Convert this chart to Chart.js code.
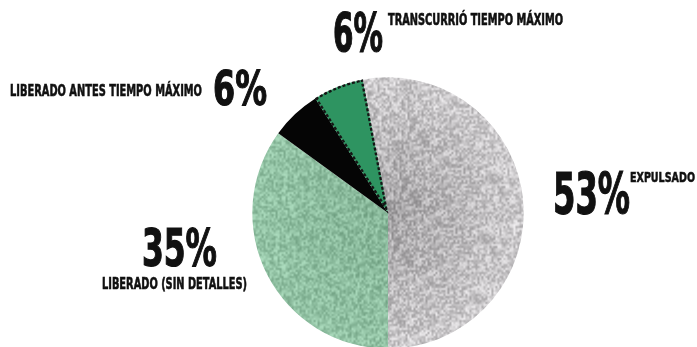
<!DOCTYPE html>
<html>
<head>
<meta charset="utf-8">
<script src="https://cdn.jsdelivr.net/npm/chart.js@4/dist/chart.umd.min.js"></script>
<style>
  html, body { margin: 0; padding: 0; background: #fff; overflow: hidden; }
  #wrap { position: relative; width: 697px; height: 347px; overflow: hidden; }
  #box { position: absolute; left: 0; top: 0; width: 697px; height: 426px; }
  .lbl {
    position: absolute; white-space: nowrap; line-height: 1; color: #111;
    font-family: "Liberation Sans Narrow", "DejaVu Sans Condensed", "Liberation Sans", sans-serif;
    font-weight: bold; transform-origin: 0 0;
  }
</style>
</head>
<body>
<div id="wrap">
  <div id="box"><canvas id="pie"></canvas></div>
</div>
<script>
// Pie data (clockwise from the top)
const labels = ['Expulsado', 'Liberado (sin detalles)', 'Liberado antes tiempo máximo', 'Transcurrió tiempo máximo'];
const values = [53, 35, 6, 6];

// textured fills: soft, blotchy noise on a base colour, anchored to the canvas
function noiseFill(w, h, base, spread, seed, shade) {
    const sw = Math.ceil(w / 2), sh = Math.ceil(h / 2);
    const c = document.createElement('canvas');
    c.width = sw; c.height = sh;
    const g = c.getContext('2d');
    const img = g.createImageData(sw, sh);
    let s = seed;
    for (let i = 0; i < sw * sh; i++) {
        s = (s * 1103515245 + 12345) & 0x7fffffff;
        const n = ((s >> 8) % 1000) / 1000 - 0.5;
        const x = (i % sw) * 2, y = Math.floor(i / sw) * 2;
        const k = shade ? shade(x, y) : 0;
        img.data[i * 4] = base[0] + n * spread + k;
        img.data[i * 4 + 1] = base[1] + n * spread + k;
        img.data[i * 4 + 2] = base[2] + n * spread + k;
        img.data[i * 4 + 3] = 255;
    }
    g.putImageData(img, 0, 0);
    const big = document.createElement('canvas');
    big.width = w; big.height = h;
    const bg = big.getContext('2d');
    bg.imageSmoothingEnabled = true;
    bg.drawImage(c, 0, 0, w, h);
    return bg.createPattern(big, 'no-repeat');
}

const ctx = document.getElementById('pie').getContext('2d');
const cx = 388, cy = 213, R = 136;
const greyFill = noiseFill(697, 426, [176, 174, 176], 75, 7, (x, y) => {
    const d = Math.hypot(x - cx, y - cy) / R;
    return d * 38 - 8;
});
const lightGreen = noiseFill(697, 426, [140, 188, 158], 55, 11, (x, y) => Math.hypot(x - cx, y - cy) / R * 14 - 6);
const darkGreen = '#2e9461';

const pieChart = new Chart(ctx, {
    type: 'pie',
    data: {
        labels: labels,
        datasets: [{
            data: values,
            backgroundColor: [greyFill, lightGreen, '#050505', darkGreen],
            borderColor: ['rgba(0,0,0,0)', 'rgba(0,0,0,0)', '#050505', '#151515'],
            borderWidth: [0, 0, 0, 2],
            borderDash: c => c.dataIndex === 3 ? [3, 2] : [],
            borderAlign: 'inner'
        }]
    },
    options: {
        responsive: true,
        maintainAspectRatio: false,
        animation: false,
        rotation: -0.53 * 360 + 180,
        layout: { padding: { left: 252, right: 173, top: 77, bottom: 77 } },
        plugins: { legend: { display: false }, tooltip: { enabled: false } }
    }
});

// annotations: x, cap top, cap height, target width, stroke for extra weight
const notes = [
    { text: values[3] + '%', x: 333, top: 15, cap: 39, w: 50, b: 1.2 },
    { text: labels[3].toUpperCase(), x: 388, top: 15, cap: 11, w: 175, b: 0.6 },
    { text: labels[2].toUpperCase(), x: 10, top: 86, cap: 12, w: 192, b: 0.6 },
    { text: values[2] + '%', x: 213, top: 72, cap: 35, w: 54, b: 1.2 },
    { text: values[1] + '%', x: 142, top: 230, cap: 38, w: 75, b: 1.2 },
    { text: labels[1].toUpperCase(), x: 102, top: 279, cap: 12, w: 145, b: 0.6 },
    { text: values[0] + '%', x: 553, top: 175, cap: 42, w: 77, b: 1.2 },
    { text: labels[0].toUpperCase(), x: 630, top: 173, cap: 10, w: 65, b: 0.5 }
];
const wrap = document.getElementById('wrap');
notes.forEach(n => {
    const el = document.createElement('div');
    el.className = 'lbl';
    el.textContent = n.text;
    const fs = n.cap / 0.729;
    el.style.fontSize = fs + 'px';
    el.style.left = n.x + 'px';
    el.style.top = (n.top - 0.16 * fs) + 'px';
    el.style.webkitTextStroke = n.b + 'px #111';
    wrap.appendChild(el);
    const sx = n.w / el.getBoundingClientRect().width;
    el.style.transform = 'scaleX(' + sx + ')';
});
</script>
</body>
</html>
